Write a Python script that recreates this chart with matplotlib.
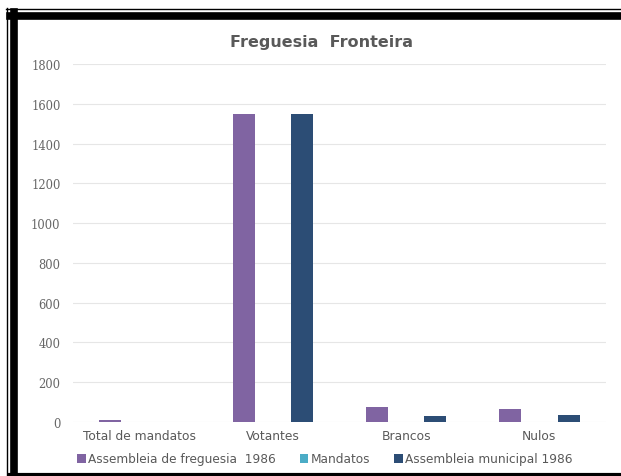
import matplotlib
matplotlib.use("Agg")
import matplotlib.pyplot as plt
import numpy as np
from matplotlib.lines import Line2D

categories = ["Total de mandatos", "Votantes", "Brancos", "Nulos"]
series_names = ["Assembleia de freguesia  1986", "Mandatos", "Assembleia municipal 1986"]
freguesia = [9, 1550, 77, 66]
mandatos = [0, 0, 0, 0]
municipal = [0, 1550, 32, 35]
colors = ["#8064A2", "#4BACC6", "#2C4D75"]
yticks = [0, 200, 400, 600, 800, 1000, 1200, 1400, 1600, 1800]

fig = plt.figure(figsize=(6.21, 4.77), dpi=100)
ax = fig.add_axes([73 / 621, 54 / 477, 533 / 621, 358 / 477])

x = np.arange(len(categories))
w = 0.165
off = 0.22
for i, (vals, name) in enumerate(zip([freguesia, mandatos, municipal], series_names)):
    ax.bar(x + (i - 1) * off, vals, width=w, color=colors[i], label=name, zorder=3)

ax.set_xlim(-0.5, len(categories) - 0.5)
ax.set_ylim(0, 1800)
ax.set_yticks(yticks)
ax.set_xticks(x)
ax.set_xticklabels(categories, fontsize=8.8, color="#595959", family="DejaVu Sans")
ax.tick_params(axis="y", labelsize=8.3, labelcolor="#666666", length=0, pad=9)
ax.tick_params(axis="x", length=0, pad=5)
for lab in ax.get_yticklabels():
    lab.set_family("DejaVu Serif")
ax.grid(axis="y", color="#E6E6E6", linewidth=0.8, zorder=0)
for s in ax.spines.values():
    s.set_visible(False)

fig.text(322 / 621, 1 - 42 / 477, "Freguesia  Fronteira", ha="center", va="center",
         fontsize=11.5, color="#595959", family="DejaVu Sans", fontweight="bold")

leg = ax.legend(loc="center", bbox_to_anchor=(325 / 621, 1 - 460 / 477),
                bbox_transform=fig.transFigure, ncol=3, frameon=False,
                fontsize=8.7, handlelength=0.7, handleheight=0.7,
                handletextpad=0.2, columnspacing=2.0)
for t in leg.get_texts():
    t.set_color("#595959")

# double black frame (right side is cut off in the original)
def hline(y, x0, x1, lw):
    fig.add_artist(Line2D([x0 / 621, x1 / 621], [1 - y / 477, 1 - y / 477],
                          color="black", linewidth=lw, transform=fig.transFigure))

def vline(xp, y0, y1, lw):
    fig.add_artist(Line2D([xp / 621, xp / 621], [1 - y0 / 477, 1 - y1 / 477],
                          color="black", linewidth=lw, transform=fig.transFigure))

hline(9.5, 6, 621, 1.0)
vline(6.5, 9, 477, 1.0)
hline(16.5, 10, 621, 5.5)
vline(14, 13, 477, 5.5)
hline(475.5, 10, 621, 3)

fig.savefig("out.png", dpi=100)
